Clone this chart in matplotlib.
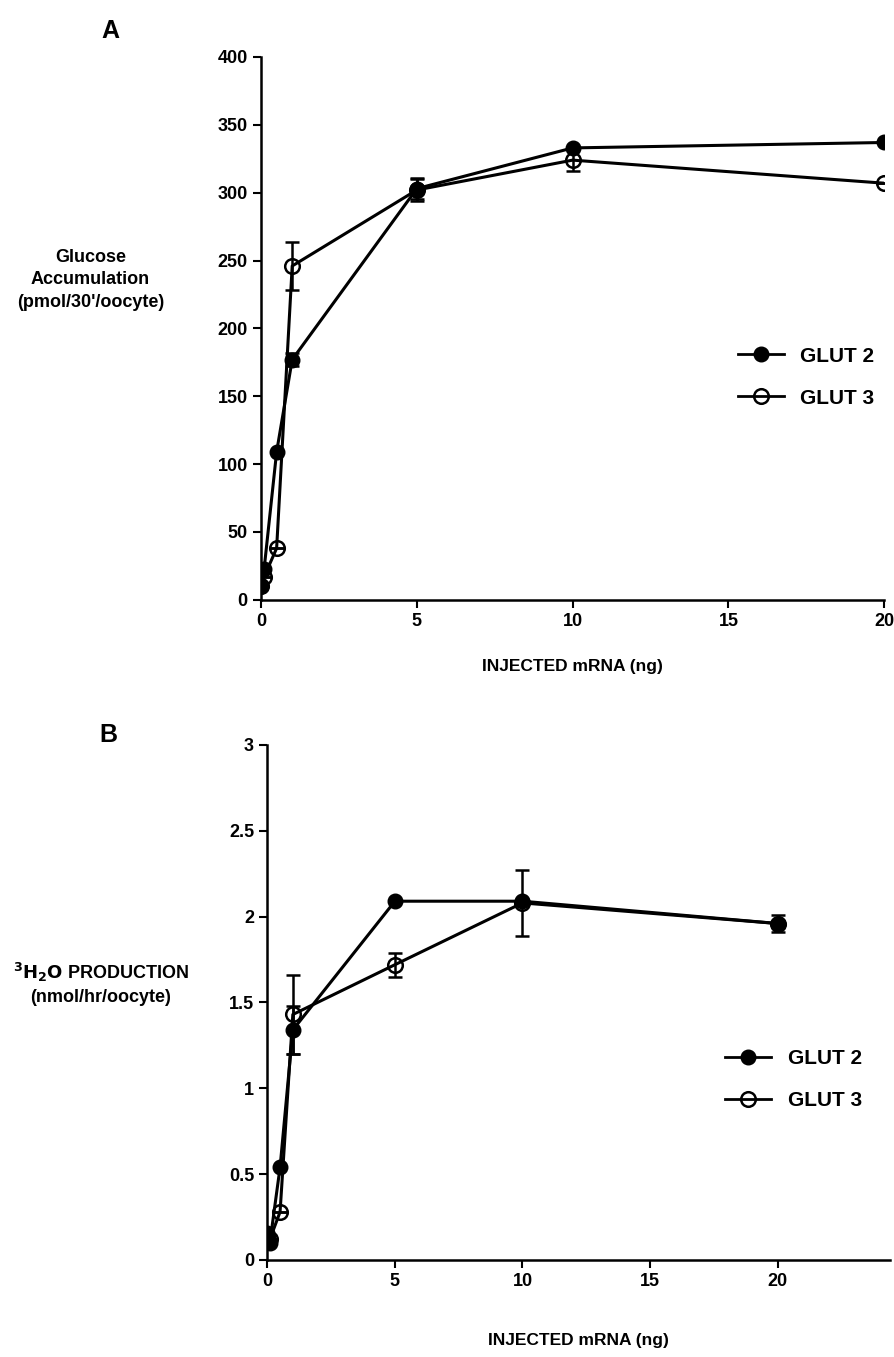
import numpy as np
import matplotlib
matplotlib.use("Agg")
import matplotlib.pyplot as plt
from matplotlib.lines import Line2D

plt.rcParams['font.family'] = ['Liberation Sans', 'DejaVu Sans']
plt.rcParams['font.weight'] = 'bold'

# panel A: glucose accumulation (pmol/30'/oocyte)
mrna = [0, 0.1, 0.5, 1, 5, 10, 20]
a_glut2 = [10, 23, 109, 177, 303, 333, 337]
a_glut2_err = [0, 0, 0, 5, 8, 0, 0]
a_glut3 = [10, 17, 38, 246, 302, 324, 307]
a_glut3_err = [0, 0, 0, 18, 8, 8, 0]

# panel B: 3H2O production (nmol/hr/oocyte)
b_glut2 = [0.16, 0.10, 0.54, 1.34, 2.09, 2.09, 1.96]
b_glut2_err = [0, 0, 0, 0.14, 0, 0, 0.05]
b_glut3 = [0.14, 0.12, 0.28, 1.43, 1.72, 2.08, 1.96]
b_glut3_err = [0, 0, 0, 0.23, 0.07, 0.19, 0]

fig = plt.figure(figsize=(8.94, 13.57), dpi=100)
axA = fig.add_axes([0.292, 0.558, 0.697, 0.400])
axB = fig.add_axes([0.299, 0.0715, 0.6965, 0.3795])

handles = [
    Line2D([], [], color='black', lw=2, marker='o', ms=10.5, mfc='black',
           mec='black'),
    Line2D([], [], color='black', lw=2, marker='o', ms=10.5, mfc='none',
           mec='black', mew=1.8),
]


def draw(ax, y2, e2, y3, e3):
    ax.errorbar(mrna, y3, yerr=e3, color='black', lw=2.2, marker='o',
                ms=10.5, mfc='none', mec='black', mew=1.8, capsize=5,
                elinewidth=1.8, capthick=1.8, zorder=3)
    ax.errorbar(mrna, y2, yerr=e2, color='black', lw=2.2, marker='o',
                ms=10.5, mfc='black', mec='black', capsize=5, elinewidth=1.8,
                capthick=1.8, zorder=4)
    for s in ['top', 'right']:
        ax.spines[s].set_visible(False)
    for s in ['left', 'bottom']:
        ax.spines[s].set_linewidth(1.8)
    ax.tick_params(direction='out', length=6, width=1.5, labelsize=13)


draw(axA, a_glut2, a_glut2_err, a_glut3, a_glut3_err)
axA.set_xlim(0, 20)
axA.set_ylim(0, 400)
axA.set_xticks([0, 5, 10, 15, 20])
axA.set_yticks(np.arange(0, 401, 50))
axA.set_xlabel('INJECTED mRNA (ng)', fontsize=12.5, fontweight='bold',
               labelpad=21)
axA.legend(handles, ['GLUT 2', 'GLUT 3'], loc='center left',
           bbox_to_anchor=(0.735, 0.41), frameon=False,
           handlelength=2.2, labelspacing=1.1,
           prop={'weight': 'bold', 'size': 15})

draw(axB, b_glut2, b_glut2_err, b_glut3, b_glut3_err)
axB.set_xlim(0, 24.4)
axB.set_ylim(0, 3)
axB.set_xticks([0, 5, 10, 15, 20])
axB.set_yticks([0, 0.5, 1, 1.5, 2, 2.5, 3])
axB.set_yticklabels(['0', '0.5', '1', '1.5', '2', '2.5', '3'])
axB.set_xlabel('INJECTED mRNA (ng)', fontsize=12.5, fontweight='bold',
               labelpad=31)
axB.legend(handles, ['GLUT 2', 'GLUT 3'], loc='center left',
           bbox_to_anchor=(0.705, 0.35), frameon=False,
           handlelength=2.2, labelspacing=1.1,
           prop={'weight': 'bold', 'size': 15})

fig.text(0.101, 0.7937, "Glucose\nAccumulation\n(pmol/30'/oocyte)",
         ha='center', va='center', fontsize=13, fontweight='bold',
         linespacing=1.45)
fig.text(0.113, 0.275, "$\\mathbf{^3H_2O}$ PRODUCTION\n(nmol/hr/oocyte)",
         ha='center', va='center', fontsize=13, fontweight='bold',
         linespacing=1.4)

fig.text(0.123, 0.977, 'A', fontsize=18, fontweight='bold', ha='center',
         va='center')
fig.text(0.121, 0.458, 'B', fontsize=18, fontweight='bold', ha='center',
         va='center')

fig.savefig('out.png', dpi=100)
